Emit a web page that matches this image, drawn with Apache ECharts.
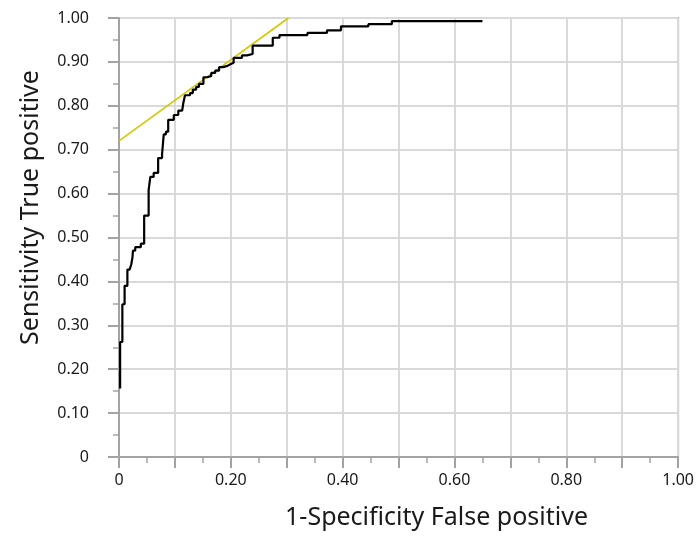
<!DOCTYPE html>
<html>
<head>
<meta charset="utf-8">
<script src="https://cdn.jsdelivr.net/npm/echarts@6/dist/echarts.min.js"></script>
<style>html,body{margin:0;padding:0;background:#fff}#c{width:697px;height:539px}</style>
</head>
<body>
<div id="c"></div>
<script>
// ROC curve vertices (x = 1-specificity, y = sensitivity), drawn as a staircase
const rocX = [0.002,0.002,0.006,0.010,0.015,0.019,0.022,0.024,0.025,0.029,0.039,0.045,0.045,0.053,0.056,0.062,0.070,0.070,0.077,0.080,0.084,0.088,0.098,0.106,0.113,0.115,0.118,0.127,0.132,0.138,0.143,0.151,0.158,0.165,0.172,0.179,0.186,0.194,0.200,0.205,0.220,0.229,0.239,0.275,0.287,0.337,0.372,0.397,0.446,0.488,0.650];
const rocY = [0.156,0.262,0.348,0.390,0.427,0.431,0.439,0.454,0.470,0.478,0.486,0.489,0.550,0.608,0.638,0.647,0.651,0.681,0.689,0.735,0.741,0.768,0.779,0.789,0.792,0.806,0.824,0.829,0.837,0.843,0.850,0.865,0.868,0.875,0.880,0.888,0.891,0.895,0.898,0.909,0.915,0.918,0.937,0.955,0.961,0.966,0.972,0.981,0.986,0.993,0.993];
// tangent reference line
const tanX = [0, 0.303];
const tanY = [0.72, 1.00];
const xTitle = '1-Specificity False positive';
const yTitle = 'Sensitivity True positive';

const roc = rocX.map((x,i)=>[x, rocY[i]]);
const tan = tanX.map((x,i)=>[x, tanY[i]]);
const font = 'Noto Sans';
const fmt = v => {
  const r = Math.round(v*10);
  if (r === 0) return '0';
  return (r/10).toFixed(2);
};
const axisGray = '#a3a3a3';
const chart = echarts.init(document.getElementById('c'));
chart.setOption({
  animation:false,
  grid:{left:119,right:16,top:18,bottom:82,show:true,borderColor:axisGray,borderWidth:2},
  xAxis:{
    type:'value',min:0,max:1,interval:0.1,
    name:xTitle,nameLocation:'middle',nameGap:48,
    nameTextStyle:{fontFamily:font,fontSize:25,color:'#1a1a1a',padding:[0,0,0,76]},
    axisLine:{show:true,onZero:false,lineStyle:{color:axisGray,width:2}},
    axisTick:{show:true,length:11,lineStyle:{color:axisGray,width:2}},
    minorTick:{show:true,splitNumber:2,length:6,lineStyle:{color:axisGray,width:1.5}},
    axisLabel:{fontFamily:font,fontSize:16,color:'#1a1a1a',margin:15,
      formatter:v=>{const r=Math.round(v*10);return r%2===0?fmt(v):'';}},
    splitLine:{show:true,lineStyle:{color:'#d9d9d9',width:2}}
  },
  yAxis:{
    type:'value',min:0,max:1,interval:0.1,
    name:yTitle,nameLocation:'middle',nameGap:76,
    nameTextStyle:{fontFamily:font,fontSize:25,color:'#1a1a1a',padding:[0,0,0,60]},
    axisLine:{show:true,onZero:false,lineStyle:{color:axisGray,width:2}},
    axisTick:{show:true,length:11,lineStyle:{color:axisGray,width:2}},
    minorTick:{show:true,splitNumber:2,length:6,lineStyle:{color:axisGray,width:1.5}},
    axisLabel:{fontFamily:font,fontSize:16,color:'#1a1a1a',margin:30,formatter:fmt},
    splitLine:{show:true,lineStyle:{color:'#d9d9d9',width:2}}
  },
  series:[
    {type:'line',data:tan,symbol:'none',lineStyle:{color:'#d4c900',width:1.6},z:3},
    {type:'line',data:roc,step:'end',symbol:'none',lineStyle:{color:'#000',width:2.2},z:4}
  ]
});
</script>
</body>
</html>
